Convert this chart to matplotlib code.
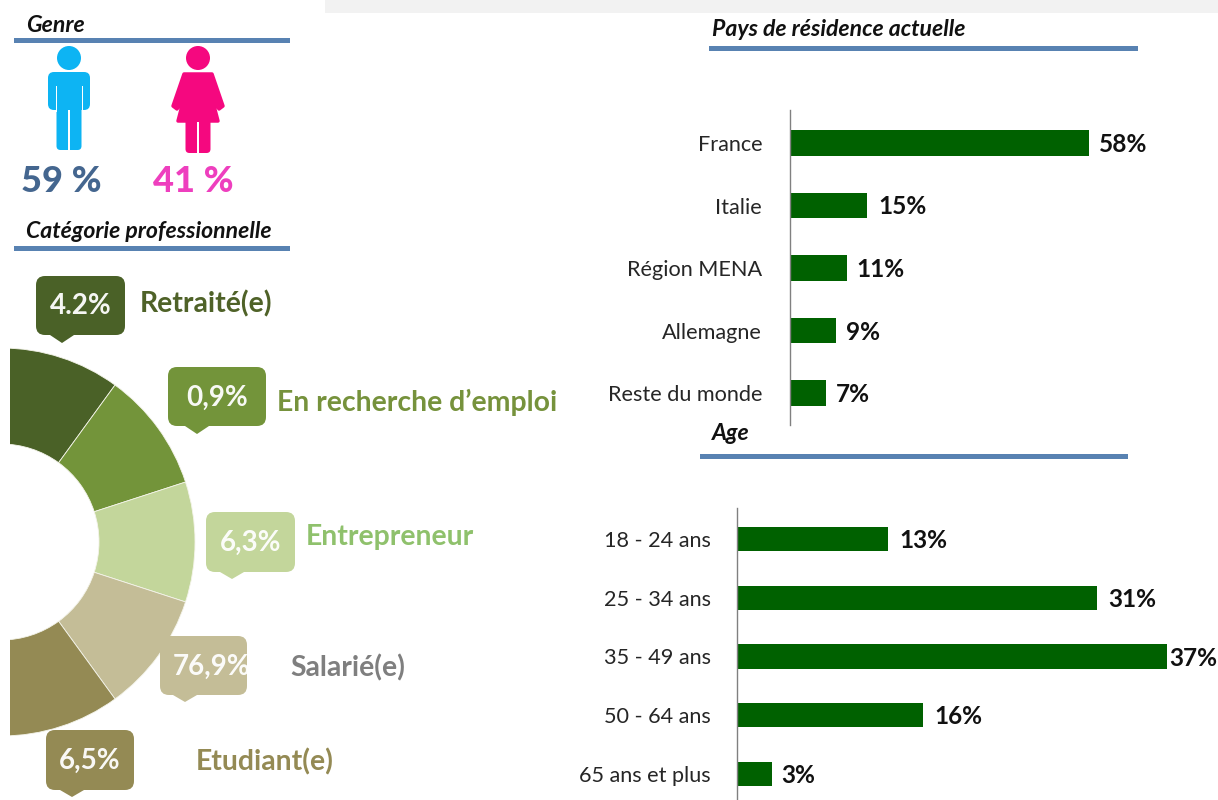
import matplotlib
matplotlib.use("Agg")
import matplotlib.pyplot as plt
from matplotlib.patches import Circle, FancyBboxPatch, Polygon, Rectangle

FONT = ["Lato", "DejaVu Sans"]
plt.rcParams["font.family"] = FONT

W, H = 1218, 800

# data
pays = ["France", "Italie", "Région MENA", "Allemagne", "Reste du monde"]
pays_vals = [58, 15, 11, 9, 7]

ages = ["18 - 24 ans", "25 - 34 ans", "35 - 49 ans", "50 - 64 ans", "65 ans et plus"]
ages_vals = [13, 31, 37, 16, 3]

# the ring is drawn in equal sectors, not in proportion to its labels
ring_spans = [72, 36, 36, 36, 72, 108]
ring_colors = ["#4a6127", "#73943a", "#c3d69b", "#c4bd97", "#948a54", "none"]

job_values = ["4.2%", "0,9%", "6,3%", "76,9%", "6,5%"]
job_names = ["Retraité(e)", "En recherche d’emploi", "Entrepreneur", "Salarié(e)", "Etudiant(e)"]
job_name_colors = ["#4f6228", "#76923c", "#8fc16c", "#7f7f7f", "#948a54"]

genre_values = ["59 %", "41 %"]
genre_colors = ["#44668f", "#ee3fbe"]


def px_axes(fig, x0, y0, x1, y1):
    # axes from pixel box, y0 is the top edge in image coordinates
    return fig.add_axes([x0 / W, 1 - y1 / H, (x1 - x0) / W, (y1 - y0) / H])


def bar_panel(fig, x0, y0, y1, first_y, step, scale, names, vals, label_gaps, pad):
    ax = px_axes(fig, x0, y0, W, y1)
    ax.patch.set_visible(False)
    pos = list(range(len(vals)))
    ax.barh(pos, vals, height=0.41, color="#006100")
    ax.set_xlim(0, (W - x0) / scale)
    ax.set_ylim((y1 - first_y) / step, (y0 - first_y) / step)
    ax.set_yticks(pos, names, fontsize=15.6, color="#262626")
    ax.tick_params(axis="y", length=0, pad=pad)
    ax.set_xticks([])
    for s in ["top", "right", "bottom"]:
        ax.spines[s].set_visible(False)
    ax.spines["left"].set_color("#808080")
    ax.spines["left"].set_linewidth(1)
    for p, v, gap in zip(pos, vals, label_gaps):
        ax.annotate(f"{v}%", (v, p), xytext=(gap, -1.5), textcoords="offset pixels",
                    va="center", ha="left", fontsize=17.6, fontweight="bold",
                    color="#111111", annotation_clip=False)
    return ax


def callout(ax, x0, y0, x1, y1, tip_x, tip_y, color, text, text_dx=0):
    ax.add_patch(FancyBboxPatch((x0, y0), x1 - x0, y1 - y0, fc=color, ec="none",
                                boxstyle="round,pad=0,rounding_size=9"))
    ax.add_patch(Polygon([(tip_x - 12, y1), (tip_x + 12, y1), (tip_x, tip_y)], fc=color, ec="none"))
    ax.text((x0 + x1) / 2 + text_dx, (y0 + y1) / 2 + 1, text, color="white", fontsize=20,
            fontweight="bold", ha="center", va="center", alpha=0.95)


def man(ax, cx, color):
    ax.add_patch(Circle((cx, 58), 12, fc=color, ec="none"))
    ax.add_patch(FancyBboxPatch((cx - 21, 72), 42, 38, fc=color, ec="none",
                                boxstyle="round,pad=0,rounding_size=6"))
    ax.add_patch(FancyBboxPatch((cx - 12.5, 90), 25, 60, fc=color, ec="none",
                                boxstyle="round,pad=0,rounding_size=4"))
    ax.add_patch(Rectangle((cx - 0.6, 110), 1.6, 41, fc="white", ec="none"))
    ax.add_patch(Rectangle((cx - 13.5, 86), 1.2, 26, fc="white", ec="none"))
    ax.add_patch(Rectangle((cx + 12.5, 86), 1.2, 26, fc="white", ec="none"))


def woman(ax, cx, color):
    ax.add_patch(Circle((cx, 58), 12, fc=color, ec="none"))
    ax.add_patch(Polygon([(cx - 14, 74), (cx + 14, 74), (cx + 25, 106), (cx + 21, 109),
                          (cx + 14, 98), (cx + 20, 121), (cx - 20, 121), (cx - 14, 98),
                          (cx - 21, 109), (cx - 25, 106)],
                         fc=color, ec=color, lw=2.5, joinstyle="round"))
    ax.add_patch(FancyBboxPatch((cx - 12.5, 112), 25, 41, fc=color, ec="none",
                                boxstyle="round,pad=0,rounding_size=4"))
    ax.add_patch(Rectangle((cx - 0.6, 122), 1.6, 32, fc="white", ec="none"))


def section(ax, x0, x1, rule_y, title, title_x, title_y):
    ax.add_patch(Rectangle((x0, rule_y - 2.5), x1 - x0, 5, fc="#5882b2", ec="none"))
    ax.text(title_x, title_y, title, fontsize=16.6, fontweight="bold", style="italic",
            color="#111111", ha="left", va="center")


fig = plt.figure(figsize=(W / 100, H / 100), dpi=100, facecolor="white")

# ring, cut off on its left side by the axes box
ring = px_axes(fig, 10, 340, 205, 744)
wedges, _ = ring.pie(ring_spans, colors=ring_colors, radius=194, center=(0, 0), startangle=126,
                     counterclock=False, wedgeprops=dict(width=96, edgecolor="#f4f4ea", linewidth=0.6))
for w in wedges:
    w.set_clip_on(True)
ring.set_xlim(10 - 1, 205 - 1)
ring.set_ylim(542 - 744, 542 - 340)
ring.set_aspect("equal")
ring.axis("off")

bar_panel(fig, 790, 110, 425, 143, 62.5, 5.155, pays, pays_vals, [10, 11, 10, 10, 10], 20)
bar_panel(fig, 737, 508, 800, 539, 58.75, 11.62, ages, ages_vals, [11, 11, 2, 11, 9], 19)

# everything else is placed in image pixels
top = fig.add_axes([0, 0, 1, 1])
top.set_xlim(0, W)
top.set_ylim(H, 0)
top.axis("off")
top.patch.set_visible(False)

top.add_patch(Rectangle((325, 0), W - 325, 13, fc="#f2f2f2", ec="none"))

section(top, 14, 290, 40.5, "Genre", 26, 25)
section(top, 14, 290, 248, "Catégorie professionnelle", 26, 232)
section(top, 709, 1138, 48, "Pays de résidence actuelle", 712, 29)
section(top, 700, 1128, 456.5, "Age", 712, 434)

man(top, 69, "#0db4f3")
woman(top, 198, "#f5087f")
top.text(61, 182, genre_values[0], color=genre_colors[0], fontsize=26, fontweight="black",
         ha="center", va="center")
top.text(193, 182, genre_values[1], color=genre_colors[1], fontsize=26, fontweight="black",
         ha="center", va="center")

callout(top, 36, 276, 125, 335, 62, 343, ring_colors[0], job_values[0])
callout(top, 168, 367, 266, 426, 197, 434, ring_colors[1], job_values[1])
callout(top, 206, 512, 295, 572, 232, 579, ring_colors[2], job_values[2])
callout(top, 160, 636, 247, 695, 185, 702, ring_colors[3], job_values[3], text_dx=8)
callout(top, 46, 730, 134, 790, 72, 797, ring_colors[4], job_values[4])

name_x = [140, 277, 306, 290, 196]
name_y = [304, 402, 537, 668, 762]
for x, y, name, c in zip(name_x, name_y, job_names, job_name_colors):
    top.text(x, y, name, color=c, fontsize=20.4, fontweight="bold", ha="left", va="center")

fig.savefig("out.png", dpi=100)
